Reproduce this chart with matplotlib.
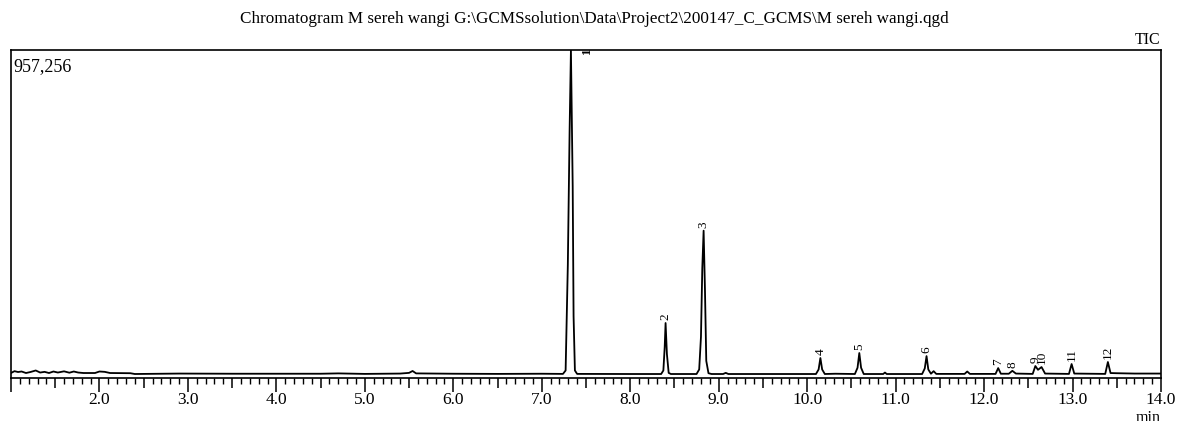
"""GC-MS total ion chromatogram of M sereh wangi (citronella oil)."""

import numpy as np
import matplotlib
matplotlib.use('Agg')
import matplotlib.pyplot as plt
from matplotlib.ticker import FixedLocator, NullFormatter


TITLE = ('Chromatogram M sereh wangi '
         'G:\\GCMSsolution\\Data\\Project2\\200147_C_GCMS\\M sereh wangi.qgd')
MAX_INTENSITY = 957256

# TIC trace vertices (time in min, intensity in counts)
trace_time = [
    1.00, 1.04, 1.08, 1.12, 1.17, 1.22, 1.28, 1.33, 1.38, 1.43, 1.48, 1.53,
    1.60, 1.66, 1.71, 1.76, 1.82, 1.95, 2.00, 2.06, 2.12, 2.35, 2.40, 2.90,
    3.50, 4.50, 4.70, 5.00, 5.40, 5.50, 5.54, 5.58, 6.00, 6.50, 7.00,
    7.24, 7.27, 7.295, 7.315, 7.33, 7.35, 7.36, 7.375, 7.40,
    8.00, 8.35, 8.375, 8.39, 8.40, 8.415, 8.435, 8.46,
    8.75, 8.78, 8.80, 8.815, 8.83, 8.845, 8.86, 8.885, 8.92,
    9.05, 9.08, 9.11,
    10.10, 10.13, 10.15, 10.17, 10.20, 10.32,
    10.54, 10.57, 10.59, 10.61, 10.64, 10.86, 10.88, 10.90,
    11.30, 11.33, 11.35, 11.37, 11.40, 11.43, 11.46, 11.78, 11.81, 11.84,
    12.13, 12.16, 12.19, 12.28, 12.32, 12.36,
    12.55, 12.58, 12.61, 12.65, 12.69,
    12.96, 12.99, 13.02, 13.37, 13.40, 13.43, 13.50, 13.70, 14.00,
]
trace_intensity = [
    14600, 20000, 17500, 19000, 14600, 17500, 22000, 16000, 18000, 14600, 19000, 16000,
    19500, 15500, 19000, 16000, 14600, 14600, 19000, 18000, 14600, 14000, 11700, 13000,
    12500, 12500, 13500, 12000, 13000, 15000, 20500, 13500, 12500, 12000, 12500,
    12000, 22000, 330000, 720000, 957256, 560000, 180000, 22000, 12000,
    11700, 11700, 22000, 90000, 160500, 70000, 15000, 11700,
    11700, 25000, 120000, 320000, 430000, 260000, 50000, 14000, 11700,
    11700, 15000, 11700,
    11700, 25000, 58400, 25000, 11700, 12500,
    11700, 30000, 73000, 30000, 11700, 11700, 16000, 11700,
    11700, 28000, 64000, 25000, 12500, 20000, 12000, 12000, 19000, 12000,
    12000, 29000, 12500, 12500, 21000, 13000,
    12000, 35000, 24000, 32000, 13000,
    12000, 40800, 13000, 12000, 46700, 14500, 14000, 13000, 13000,
]

# Peak labels (number, retention time, apex intensity)
peak_no = ['1', '2', '3', '4', '5', '6', '7', '8', '9', '10', '11', '12']
peak_rt = [7.51, 8.40, 8.83, 10.15, 10.59, 11.35, 12.16, 12.32, 12.58, 12.65, 12.99, 13.40]
peak_top = [MAX_INTENSITY, 160500, 430000, 58400, 73000, 64000, 29000, 21000,
            35000, 32000, 40800, 46700]

major_ticks = np.arange(1.0, 14.01, 0.5)
minor_ticks = np.arange(1.0, 14.01, 0.1)

plt.rcParams['font.family'] = ['Liberation Serif', 'DejaVu Serif']

fig = plt.figure(figsize=(11.79, 4.21), dpi=100)
ax = fig.add_axes([0.0093, 0.1021, 0.9754, 0.7791])

ax.plot(trace_time, trace_intensity, color='black', linewidth=1.3)

for num, rt, top in zip(peak_no, peak_rt, peak_top):
    if top >= MAX_INTENSITY:
        # off-scale peak: its label sits on the top frame and is mostly cut
        ax.annotate(num, xy=(rt, top), xytext=(0, -0.5), textcoords='offset points',
                    rotation=90, ha='center', va='center', fontsize=9.5,
                    fontweight='bold', annotation_clip=False, clip_on=True)
    else:
        ax.annotate(num, xy=(rt, top), xytext=(0, 2), textcoords='offset points',
                    rotation=90, ha='center', va='bottom', fontsize=9.5,
                    annotation_clip=False)

ax.set_xlim(1.0, 14.0)
ax.set_ylim(0, MAX_INTENSITY)

# ticks: long at whole minutes, medium at halves, short every 0.1
ax.xaxis.set_major_locator(FixedLocator(major_ticks))
ax.xaxis.set_minor_locator(FixedLocator(minor_ticks))
ax.set_xticklabels(['%.1f' % t if (t >= 2 and t == int(t)) else '' for t in major_ticks])
ax.xaxis.set_minor_formatter(NullFormatter())
ax.tick_params(axis='x', which='major', direction='out', length=10, width=1.1,
               labelsize=12.5, pad=0)
ax.tick_params(axis='x', which='minor', direction='out', length=4, width=1.0)
for t, tick in zip(major_ticks, ax.xaxis.get_major_ticks()):
    if t != int(t):
        tick.tick1line.set_markersize(7)
ax.set_yticks([])

for spine in ax.spines.values():
    spine.set_linewidth(1.2)

ax.text(0.002, 0.975, '957,256', transform=ax.transAxes, ha='left', va='top', fontsize=13)
fig.text(0.984, 0.905, 'TIC', ha='right', va='center', fontsize=11.5)
fig.text(0.974, 0.006, 'min', ha='center', va='center', fontsize=11.5)
fig.text(0.504, 0.955, TITLE, ha='center', va='center', fontsize=12.3)

fig.savefig('out.png', dpi=100)
